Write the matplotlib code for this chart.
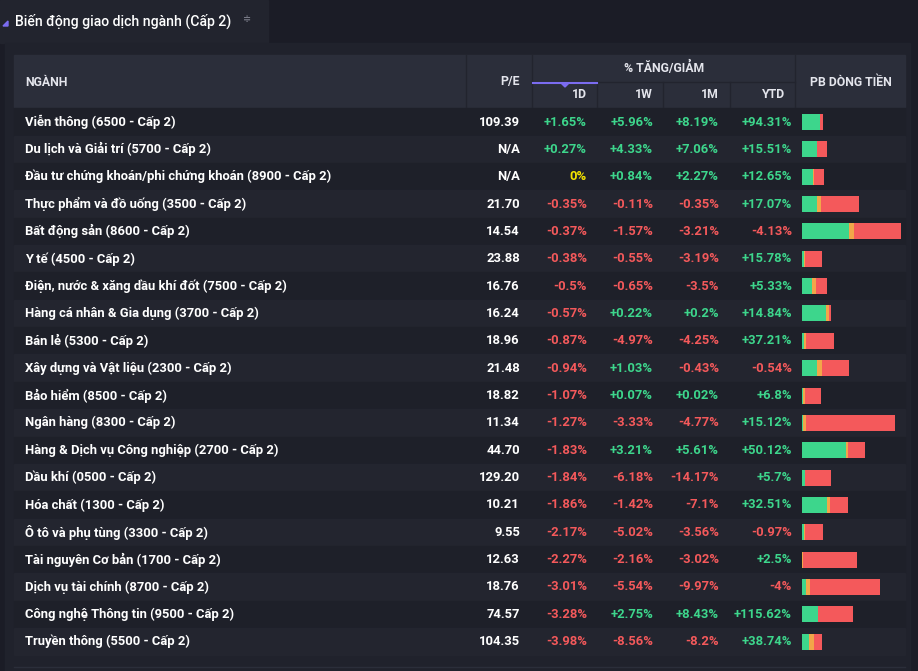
import matplotlib.pyplot as plt
import numpy as np
from matplotlib.patches import Rectangle, Polygon

sectors = [
    "Viễn thông (6500 - Cấp 2)",
    "Du lịch và Giải trí (5700 - Cấp 2)",
    "Đầu tư chứng khoán/phi chứng khoán (8900 - Cấp 2)",
    "Thực phẩm và đồ uống (3500 - Cấp 2)",
    "Bất động sản (8600 - Cấp 2)",
    "Y tế (4500 - Cấp 2)",
    "Điện, nước & xăng dầu khí đốt (7500 - Cấp 2)",
    "Hàng cá nhân & Gia dụng (3700 - Cấp 2)",
    "Bán lẻ (5300 - Cấp 2)",
    "Xây dựng và Vật liệu (2300 - Cấp 2)",
    "Bảo hiểm (8500 - Cấp 2)",
    "Ngân hàng (8300 - Cấp 2)",
    "Hàng & Dịch vụ Công nghiệp (2700 - Cấp 2)",
    "Dầu khí (0500 - Cấp 2)",
    "Hóa chất (1300 - Cấp 2)",
    "Ô tô và phụ tùng (3300 - Cấp 2)",
    "Tài nguyên Cơ bản (1700 - Cấp 2)",
    "Dịch vụ tài chính (8700 - Cấp 2)",
    "Công nghệ Thông tin (9500 - Cấp 2)",
    "Truyền thông (5500 - Cấp 2)",
]
pe = [109.39, np.nan, np.nan, 21.70, 14.54, 23.88, 16.76, 16.24, 18.96, 21.48,
      18.82, 11.34, 44.70, 129.20, 10.21, 9.55, 12.63, 18.76, 74.57, 104.35]
chg_1d = [1.65, 0.27, 0, -0.35, -0.37, -0.38, -0.5, -0.57, -0.87, -0.94,
          -1.07, -1.27, -1.83, -1.84, -1.86, -2.17, -2.27, -3.01, -3.28, -3.98]
chg_1w = [5.96, 4.33, 0.84, -0.11, -1.57, -0.55, -0.65, 0.22, -4.97, 1.03,
          0.07, -3.33, 3.21, -6.18, -1.42, -5.02, -2.16, -5.54, 2.75, -8.56]
chg_1m = [8.19, 7.06, 2.27, -0.35, -3.21, -3.19, -3.5, 0.2, -4.25, -0.43,
          0.02, -4.77, 5.61, -14.17, -7.1, -3.56, -3.02, -9.97, 8.43, -8.2]
chg_ytd = [94.31, 15.51, 12.65, 17.07, -4.13, 15.78, 5.33, 14.84, 37.21, -0.54,
           6.8, 15.12, 50.12, 5.7, 32.51, -0.97, 2.5, -4, 115.62, 38.74]
# phan bo dong tien: tang / dung gia / giam
flow_up = [18, 15.3, 11, 15, 47, 2, 10, 24, 2, 15, 1, 1, 44, 3, 25, 2, 0, 4, 16, 7]
flow_flat = [0, 0, 0.7, 4, 4.7, 1, 4, 3, 2, 5, 2, 3, 2, 0, 3, 1, 0.7, 4, 0, 5]
flow_down = [2.7, 9.3, 10, 37.7, 47, 16.7, 10.7, 1.7, 27.7, 26.7, 15.7, 88.7,
             16.7, 25.7, 17.7, 17.7, 54.7, 69.7, 34.7, 7.7]

GREEN = "#3dd68c"
RED = "#f4595b"
ORANGE = "#f2a649"
YELLOW = "#f5e400"
FONT = ["Roboto", "DejaVu Sans"]

fig = plt.figure(figsize=(9.18, 6.71), dpi=100, facecolor="#1b1c26")
ax = fig.add_axes([0, 0, 1, 1])
ax.set_xlim(0, 918)
ax.set_ylim(671, 0)
ax.axis("off")

# khung
ax.add_patch(Rectangle((0, 0), 268, 43, color="#22242e", zorder=0))
ax.add_patch(Rectangle((5, 43), 905, 628, color="#20222c", zorder=0))
ax.add_patch(Rectangle((14, 55), 891, 52, color="#2b2e3a", zorder=1))
ax.plot([532, 795], [82, 82], color="#22242e", lw=1, zorder=2)
for x in [466, 532, 795]:
    ax.plot([x, x], [55, 107], color="#22242e", lw=1, zorder=2)
for x in [597, 663, 730]:
    ax.plot([x, x], [82, 107], color="#22242e", lw=1, zorder=2)
ax.plot([533, 597], [83, 83], color="#7b6cf0", lw=1.5, zorder=3)
ax.add_patch(Polygon([[561, 83], [569, 83], [565, 87]], color="#7b6cf0", zorder=3))

# tieu de
ax.text(15, 21, "Biến động giao dịch ngành (Cấp 2)", fontsize=10.1, color="white",
        family=FONT, fontweight="medium", va="center", ha="left")
ax.text(247, 19, "≑", fontsize=7, color="#8a8c99", va="center", ha="center",
        family=["DejaVu Sans"])
ax.add_patch(Polygon([[3, 26], [8, 21], [8, 26]], color="#7b6cf0", zorder=3))

hdr = dict(fontsize=8.8, color="#e4e5ec", fontweight="bold", family=FONT, va="center", zorder=4)
ax.text(25, 82, "NGÀNH", ha="left", **hdr)
ax.text(520, 82, "P/E", ha="right", **hdr)
ax.text(664, 68, "% TĂNG/GIẢM", ha="center", **hdr)
for x, s in zip([587, 653, 719, 785], ["1D", "1W", "1M", "YTD"]):
    ax.text(x, 95, s, ha="right", **hdr)
ax.text(851, 82, "PB DÒNG TIỀN", ha="center", **hdr)

row_h = 27.35
y0 = 122


def fmt(v):
    if v == 0:
        return "0%", YELLOW
    return f"{v:+g}%", GREEN if v > 0 else RED


ys = y0 + row_h * np.arange(len(sectors))
for i, y in enumerate(ys):
    bg = "#1e2029" if i % 2 == 0 else "#23252f"
    ax.add_patch(Rectangle((14, y - row_h / 2), 891, row_h, color=bg, zorder=1))
    txt = dict(fontsize=9.4, fontweight="bold", family=FONT, va="center", zorder=4)
    ax.text(25, y, sectors[i], ha="left", color="white", **txt)
    p = "N/A" if np.isnan(pe[i]) else f"{pe[i]:.2f}"
    ax.text(520, y, p, ha="right", color="white", **txt)
    for x, arr in zip([587, 653, 719, 792], [chg_1d, chg_1w, chg_1m, chg_ytd]):
        s, c = fmt(arr[i])
        ax.text(x, y, s, ha="right", color=c, **txt)

up = np.array(flow_up)
flat = np.array(flow_flat)
down = np.array(flow_down)
ax.barh(ys, up, left=802, height=16, color=GREEN, zorder=3)
ax.barh(ys, flat, left=802 + up, height=16, color=ORANGE, zorder=3)
ax.barh(ys, down, left=802 + up + flat, height=16, color=RED, zorder=3)

ax.plot([14, 905], [667, 667], color="#2b2e3a", lw=1, zorder=2)

fig.savefig("out.png", dpi=100, facecolor=fig.get_facecolor())
